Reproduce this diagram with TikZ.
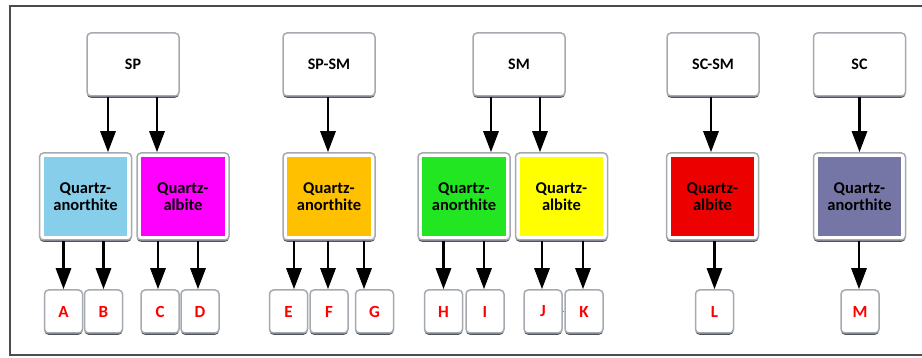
\documentclass[tikz,border=0pt]{standalone}
\usepackage{fontspec}
\setmainfont{Carlito}
\usetikzlibrary{arrows.meta,shadows}
\definecolor{cblue}{RGB}{135,206,235}
\definecolor{cmag}{RGB}{255,0,255}
\definecolor{corange}{RGB}{255,192,0}
\definecolor{cgreen}{RGB}{34,230,34}
\definecolor{cyellow}{RGB}{255,255,0}
\definecolor{cred}{RGB}{236,0,0}
\definecolor{cpurple}{RGB}{118,118,166}
\definecolor{bordergray}{RGB}{165,169,176}
\definecolor{shadowgray}{RGB}{60,64,72}
\begin{document}
\begin{tikzpicture}[x=1pt,y=-1pt,
  basebox/.style={draw=bordergray, line width=1.5pt, rounded corners=4pt, fill=white,
    drop shadow={shadow xshift=0pt, shadow yshift=-1.8pt, fill=shadowgray, opacity=0.9, shadow scale=1},
    font=\bfseries\fontsize{16}{17}\selectfont, inner sep=0pt},
  topbox/.style={basebox, minimum width=92pt, minimum height=63pt},
  midbox/.style={basebox, minimum width=92pt, minimum height=87pt, align=center,
    font=\bfseries\fontsize{16.5}{16.5}\selectfont,
    path picture={\fill[#1, sharp corners] ([shift={(4.2pt,4.2pt)}]path picture bounding box.south west) rectangle ([shift={(-4.2pt,-4.2pt)}]path picture bounding box.north east);}},
  leafbox/.style={basebox, minimum width=38pt, minimum height=43pt, text=red, font=\bfseries\fontsize{17}{17}\selectfont},
  arr/.style={line width=2.8pt, -{Triangle[length=21pt,width=15pt]}}
]
\useasboundingbox (0,0) rectangle (922,358);
\draw[line width=1.2pt, black!70] (10,6) rectangle (930,355);

% top boxes
\node[topbox] (SP)   at (133,64.5) {SP};
\node[topbox] (SPSM) at (329,64.5) {SP-SM};
\node[topbox] (SM)   at (519,64.5) {SM};
\node[topbox] (SCSM) at (713,64.5) {SC-SM};
\node[topbox] (SC)   at (859.5,64.5) {SC};

% middle boxes
\node[midbox=cblue]   (QA1) at (85.5,196.5) {Quartz-\\anorthite};
\node[midbox=cmag]    (QB1) at (183,196.5) {Quartz-\\albite};
\node[midbox=corange] (QA2) at (329,196.5) {Quartz-\\anorthite};
\node[midbox=cgreen]  (QA3) at (464,196.5) {Quartz-\\anorthite};
\node[midbox=cyellow] (QB3) at (561.5,196.5) {Quartz-\\albite};
\node[midbox=cred]    (QB4) at (712.5,196.5) {Quartz-\\albite};
\node[midbox=cpurple] (QA5) at (859.5,196.5) {Quartz-\\anorthite};

% leaf boxes
\node[leafbox] (A) at (63.5,311.5) {A};
\node[leafbox] (B) at (103.5,311.5) {B};
\node[leafbox] (C) at (160,311.5) {C};
\node[leafbox] (D) at (200,311.5) {D};
\node[leafbox] (E) at (288.5,311.5) {E};
\node[leafbox] (F) at (329,311.5) {F};
\node[leafbox] (G) at (374.5,311.5) {G};
\node[leafbox] (H) at (443.5,311.5) {H};
\node[leafbox] (I) at (485,311.5) {I};
\node[leafbox] (J) at (543,311.5) {J};
\node[leafbox] (K) at (584,311.5) {K};
\node[leafbox] (L) at (714.5,311.5) {L};
\node[leafbox] (M) at (860,311.5) {M};

% top -> middle
\draw[arr] ([xshift=-25]SP.south) -- ([xshift=-25]SP.south |- QA1.north);
\draw[arr] ([xshift=24]SP.south) -- ([xshift=24]SP.south |- QB1.north);
\draw[arr] ([xshift=-1]SPSM.south) -- ([xshift=-1]SPSM.south |- QA2.north);
\draw[arr] ([xshift=-28]SM.south) -- ([xshift=-28]SM.south |- QA3.north);
\draw[arr] ([xshift=21]SM.south) -- ([xshift=21]SM.south |- QB3.north);
\draw[arr] ([xshift=-2]SCSM.south) -- ([xshift=-2]SCSM.south |- QB4.north);
\draw[arr] (SC.south) -- (SC.south |- QA5.north);

% middle -> leaves
\draw[arr] (QA1.south -| A.north) -- (A.north);
\draw[arr] (QA1.south -| B.north) -- (B.north);
\draw[arr] ([xshift=-2]QB1.south -| C.north) -- ([xshift=-2]C.north);
\draw[arr] ([xshift=-2]QB1.south -| D.north) -- ([xshift=-2]D.north);
\draw[arr] ([xshift=5.5]QA2.south -| E.north) -- ([xshift=5.5]E.north);
\draw[arr] ([xshift=-1]QA2.south -| F.north) -- ([xshift=-1]F.north);
\draw[arr] ([xshift=-10.5]QA2.south -| G.north) -- ([xshift=-10.5]G.north);
\draw[arr] (QA3.south -| H.north) -- (H.north);
\draw[arr] ([xshift=-1]QA3.south -| I.north) -- ([xshift=-1]I.north);
\draw[arr] ([xshift=-1]QB3.south -| J.north) -- ([xshift=-1]J.north);
\draw[arr] ([xshift=-1]QB3.south -| K.north) -- ([xshift=-1]K.north);
\draw[arr] (QB4.south -| L.north) -- (L.north);
\draw[arr] ([xshift=-1]QA5.south -| M.north) -- ([xshift=-1]M.north);

% tiny link J-K
\draw[line width=1.2pt, gray] (J.east) -- (K.west);
\end{tikzpicture}
\end{document}
